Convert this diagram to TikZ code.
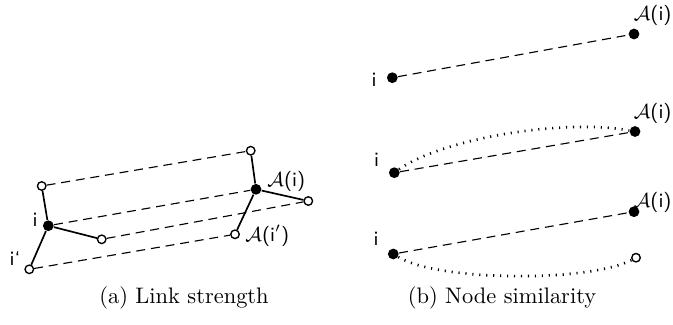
\documentclass[tikz,border=0pt]{standalone}
\begin{document}
\begin{tikzpicture}[x=0.4458pt,y=-0.4458pt,
  full/.style={circle,fill=black,inner sep=0pt,minimum size=4.8pt},
  empty/.style={circle,draw=black,fill=white,line width=0.6pt,inner sep=0pt,minimum size=3.8pt},
  lab/.style={font=\sffamily\small,inner sep=0pt},
  solidline/.style={line width=0.75pt},
  dashline/.style={line width=0.5pt,dash pattern=on 4pt off 2.6pt},
  dotline/.style={line width=1.2pt,dash pattern=on 0.5pt off 2.6pt},
  captext/.style={font=\normalsize,inner sep=0pt}]
\useasboundingbox (0,0) rectangle (673,324);
% panel (a)
\node[full]  (i)   at (48.3,225.7) {};
\node[empty] (tl)  at (41.7,186) {};
\node[empty] (ip)  at (29.3,269.3) {};
\node[empty] (m)   at (101.7,239.3) {};
\node[empty] (tr)  at (250.7,150.7) {};
\node[full]  (ai)  at (256,189.3) {};
\node[empty] (r)   at (308.3,201) {};
\node[empty] (aip) at (235,234.3) {};
\draw[solidline] (tl) -- (i) -- (m);
\draw[solidline] (i) -- (ip);
\draw[solidline] (tr) -- (ai) -- (r);
\draw[solidline] (ai) -- (aip);
\draw[dashline] (tl) -- (tr);
\draw[dashline] (i) -- (ai);
\draw[dashline] (m) -- (r);
\draw[dashline] (ip) -- (aip);
\node[lab] (li) at (35,220) {i};
\node[lab] (lip) at (15,258) {i`};
\node[lab,anchor=west] (lai) at (267,181) {$\mathcal{A}$(i)};
\node[lab,anchor=west] (laip) at (245,236) {$\mathcal{A}$(i$'$)};
\node[captext] (ca) at (184,298) {(a) Link strength};
% panel (b)
\node[full] (b1i) at (392.3,77.7) {};
\node[full] (b1a) at (634,34) {};
\draw[dashline] (b1i) -- (b1a);
\node[lab] (lb1i) at (374,80) {i};
\node[lab,anchor=east] (lb1a) at (672,15) {$\mathcal{A}$(i)};
\node[full] (b2i) at (394.3,172.7) {};
\node[full] (b2a) at (635,131.5) {};
\draw[dashline] (b2i) -- (b2a);
\draw[dotline] (b2i) .. controls (440,140) and (560,118) .. (b2a);
\node[lab] (lb2i) at (376.7,160) {i};
\node[lab,anchor=east] (lb2a) at (672,113) {$\mathcal{A}$(i)};
\node[full] (b3i) at (393.3,254) {};
\node[full] (b3a) at (634,211.7) {};
\node[empty] (b3o) at (636,257.7) {};
\draw[dashline] (b3i) -- (b3a);
\draw[dotline] (b3i) .. controls (440,282) and (590,282) .. (b3o);
\node[lab] (lb3i) at (376,238.5) {i};
\node[lab,anchor=east] (lb3a) at (672,202) {$\mathcal{A}$(i)};
\node[captext] (cb) at (502,298) {(b) Node similarity};
\end{tikzpicture}
\end{document}
